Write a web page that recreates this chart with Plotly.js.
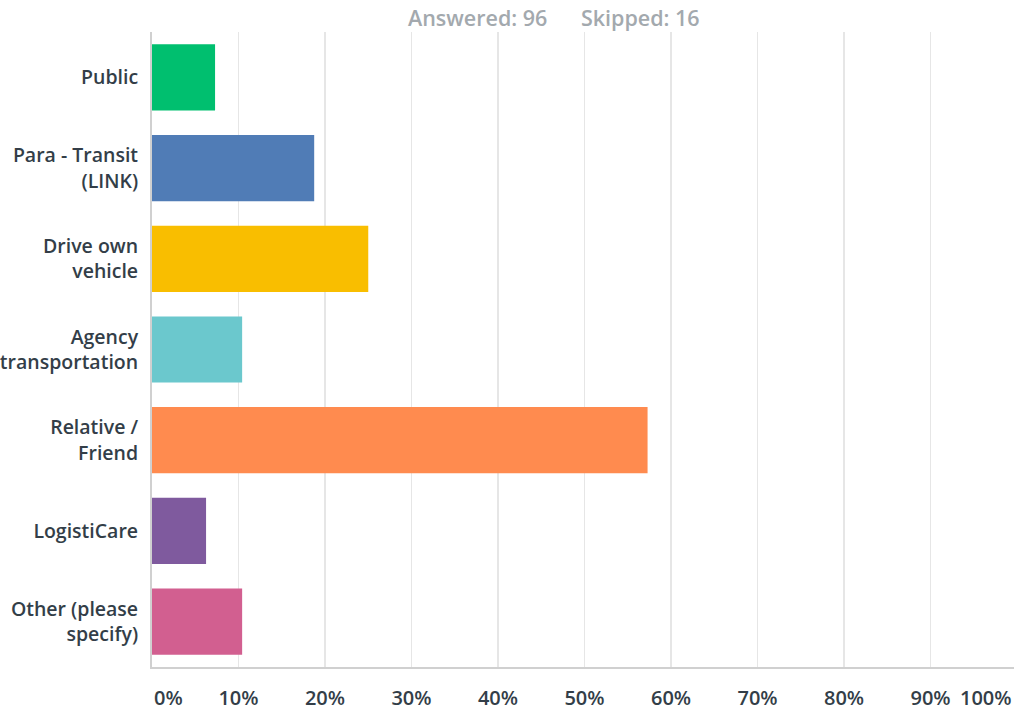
<!DOCTYPE html>
<html>
<head>
<meta charset="utf-8">
<script src="https://cdn.plot.ly/plotly-3.0.1.min.js"></script>
<style>html,body{margin:0;padding:0;background:#fff;overflow:hidden}</style>
</head>
<body>
<div id="chart" style="width:1014px;height:710px"></div>
<script>
const categories = ["Public", "Para - Transit<br>(LINK)", "Drive own<br>vehicle", "Agency<br>transportation", "Relative /<br>Friend", "LogistiCare", "Other (please<br>specify)"];
const values = [7.29, 18.75, 25.00, 10.42, 57.29, 6.25, 10.42];
const colors = ["#00BF6F", "#507CB6", "#F9BE00", "#6BC8CD", "#FF8B4F", "#7F5A9E", "#D25F90"];
const tickValues = [10, 20, 30, 40, 50, 60, 70, 80, 90];
const tickLabels = ["10%", "20%", "30%", "40%", "50%", "60%", "70%", "80%", "90%"];
const headerText = "Answered: 96&nbsp;&nbsp;&nbsp;&nbsp;&nbsp;&nbsp;Skipped: 16";

const FONT = "Open Sans, sans-serif";
const trace = {
  type: "bar",
  orientation: "h",
  x: values,
  y: categories,
  marker: {color: colors},
  hoverinfo: "x+y"
};
const layout = {
  width: 1014, height: 710,
  margin: {l: 152, r: 0, t: 32, b: 43},
  paper_bgcolor: "#fff", plot_bgcolor: "#fff",
  bargap: 0.27,
  showlegend: false,
  font: {family: FONT, color: "#333E48"},
  xaxis: {
    range: [0, 99.65],
    tickvals: tickValues,
    ticktext: tickLabels,
    ticks: "outside", ticklen: 12, tickcolor: "rgba(0,0,0,0)",
    tickfont: {family: FONT, size: 20, weight: 600, color: "#333E48"},
    showgrid: true, gridcolor: "#E6E6E6", gridwidth: 1.5,
    zeroline: false,
    showline: true, linecolor: "#D0D0D0", linewidth: 2,
    fixedrange: true
  },
  yaxis: {
    autorange: "reversed",
    tickfont: {family: FONT, size: 19.5, weight: 600, color: "#333E48"},
    ticks: "outside", ticklen: 8, tickcolor: "rgba(0,0,0,0)",
    showgrid: false, zeroline: false,
    showline: true, linecolor: "#D0D0D0", linewidth: 2,
    fixedrange: true
  },
  annotations: [
    {text: headerText, xref: "paper", yref: "paper", x: 0.466, y: 1, yshift: 15, xanchor: "center", yanchor: "middle", showarrow: false,
     font: {family: FONT, size: 21.5, weight: 600, color: "#A3A9AE"}},
    {text: "0%", xref: "paper", yref: "paper", x: 0, y: 0, yshift: -30, xanchor: "left", yanchor: "middle", showarrow: false,
     font: {family: FONT, size: 20, weight: 600, color: "#333E48"}},
    {text: "100%", xref: "paper", yref: "paper", x: 1, y: 0, yshift: -30, xanchor: "right", yanchor: "middle", showarrow: false,
     font: {family: FONT, size: 20, weight: 600, color: "#333E48"}}
  ]
};
Plotly.newPlot("chart", [trace], layout, {displayModeBar: false, staticPlot: true});
</script>
</body>
</html>
